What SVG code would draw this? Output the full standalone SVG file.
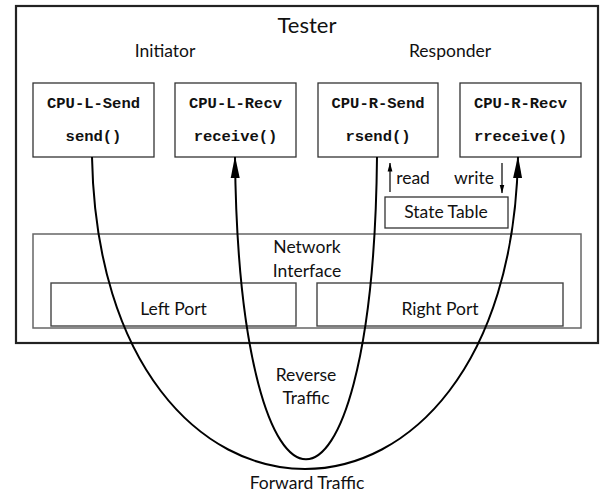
<svg xmlns="http://www.w3.org/2000/svg" width="600" height="497" viewBox="0 0 600 497">
  <style>
    .lbl { font-family: Lato, "Liberation Sans", sans-serif; fill: #111; text-anchor: middle; }
    .code { font-family: "Liberation Mono", "DejaVu Sans Mono", monospace; font-weight: bold; font-size: 15.5px; fill: #111; text-anchor: middle; }
    .box { fill: #fff; stroke: #333; stroke-width: 1.3; }
    .port { fill: #fff; stroke: #444; stroke-width: 1.4; }
    .flow { fill: none; stroke: #000; stroke-width: 2; }
    .thin { fill: none; stroke: #000; stroke-width: 1.2; }
  </style>
  <defs>
    <marker id="bigHead" viewBox="0 0 22 10" refX="21" refY="5" markerUnits="userSpaceOnUse" markerWidth="22" markerHeight="10" orient="auto">
      <path d="M0,0.5 L22,5 L0,9.5 Z" fill="#000"/>
    </marker>
    <marker id="smallHead" viewBox="0 0 9 6" refX="8.5" refY="3" markerUnits="userSpaceOnUse" markerWidth="9" markerHeight="6" orient="auto">
      <path d="M0,0.6 L9,3 L0,5.4 Z" fill="#000"/>
    </marker>
  </defs>

  <!-- outer tester frame -->
  <g id="tester">
    <rect x="16" y="6" width="582" height="337" fill="#fff" stroke="#222" stroke-width="2.2"/>
    <text class="lbl" x="307" y="33" font-size="22">Tester</text>
    <text class="lbl" x="165" y="57" font-size="17.5">Initiator</text>
    <text class="lbl" x="450" y="57" font-size="17.5">Responder</text>
  </g>

  <g id="cpu-l-send">
    <rect class="box" x="33" y="83" width="121" height="74"/>
    <text class="code" x="93.5" y="108">CPU-L-Send</text>
    <text class="code" x="93.5" y="141">send()</text>
  </g>
  <g id="cpu-l-recv">
    <rect class="box" x="175" y="83" width="121" height="74"/>
    <text class="code" x="235.5" y="108">CPU-L-Recv</text>
    <text class="code" x="235.5" y="141">receive()</text>
  </g>
  <g id="cpu-r-send">
    <rect class="box" x="318" y="83" width="120" height="74"/>
    <text class="code" x="378" y="108">CPU-R-Send</text>
    <text class="code" x="378" y="141">rsend()</text>
  </g>
  <g id="cpu-r-recv">
    <rect class="box" x="460" y="83" width="121" height="74"/>
    <text class="code" x="520.5" y="108">CPU-R-Recv</text>
    <text class="code" x="520.5" y="141">rreceive()</text>
  </g>

  <g id="state-table">
    <rect class="box" x="385" y="197" width="123" height="31"/>
    <text class="lbl" x="446" y="218" font-size="17.5">State Table</text>
  </g>

  <g id="network-interface">
    <rect x="33" y="234" width="548" height="94" fill="#fff" stroke="#666" stroke-width="1.5"/>
    <text class="lbl" x="307" y="253" font-size="17.5">Network</text>
    <text class="lbl" x="307" y="277" font-size="17.5">Interface</text>
  </g>
  <g id="left-port">
    <rect class="port" x="51" y="283" width="245" height="43"/>
    <text class="lbl" x="173.5" y="315" font-size="17.5">Left Port</text>
  </g>
  <g id="right-port">
    <rect class="port" x="317" y="283" width="246" height="43"/>
    <text class="lbl" x="440" y="315" font-size="17.5">Right Port</text>
  </g>

  <!-- connectors -->
  <g id="connectors">
    <path class="flow" d="M92,157 C100,573 510,573 518,157" marker-end="url(#bigHead)"/>
    <path class="flow" d="M377,157 C373,560 239,560 235,157" marker-end="url(#bigHead)"/>
    <path class="thin" d="M390,192 L390,163" marker-end="url(#smallHead)"/>
    <path class="thin" d="M502,163 L502,193" marker-end="url(#smallHead)"/>
    <text class="lbl" x="413" y="184" font-size="17.5">read</text>
    <text class="lbl" x="474" y="184" font-size="17.5">write</text>
    <text class="lbl" x="306" y="381" font-size="17.5">Reverse</text>
    <text class="lbl" x="306" y="404" font-size="17.5">Traffic</text>
    <text class="lbl" x="307" y="489" font-size="17.5">Forward Traffic</text>
  </g>
</svg>
